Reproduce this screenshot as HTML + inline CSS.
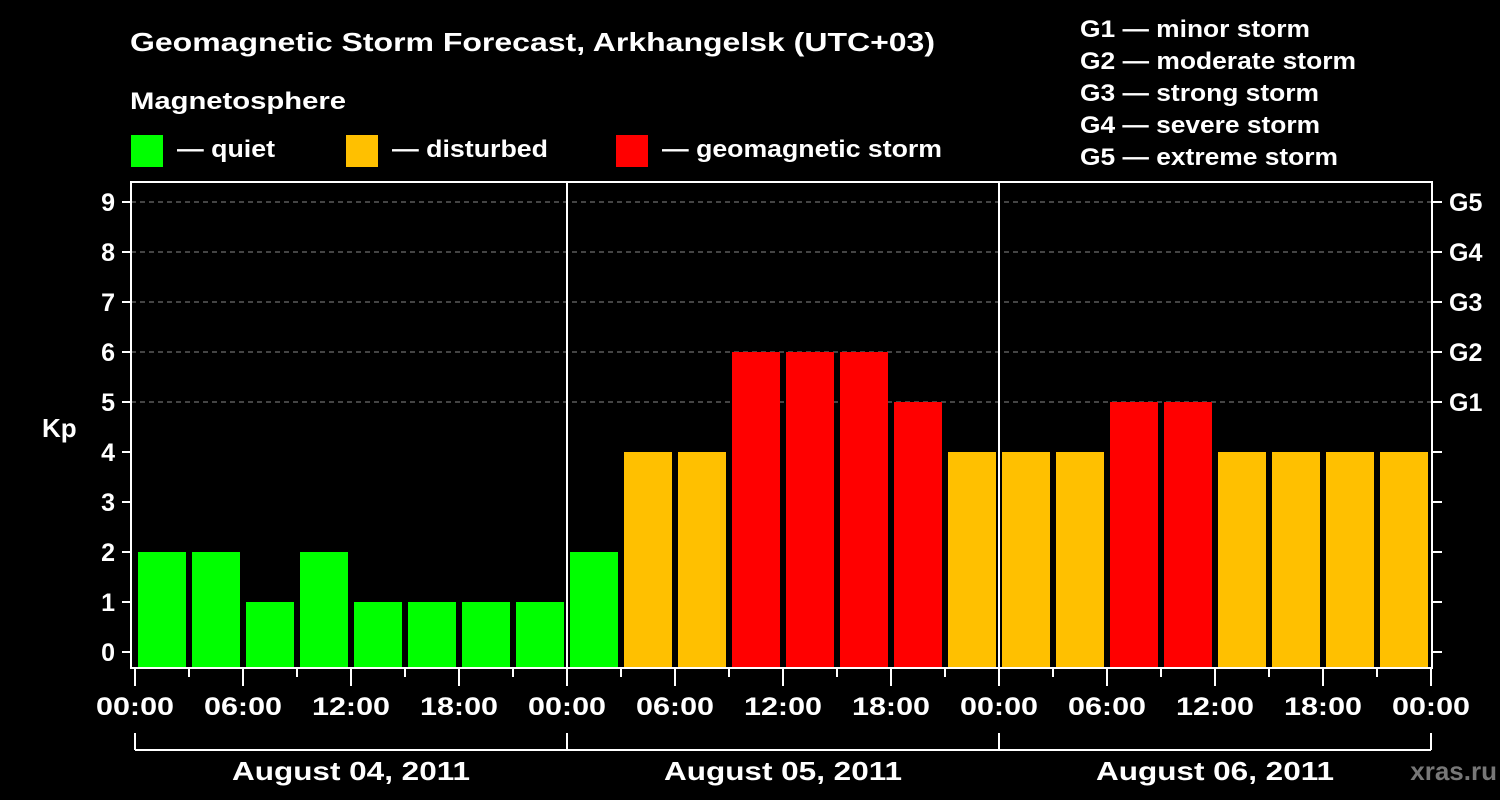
<!DOCTYPE html>
<html><head><meta charset="utf-8"><style>
html,body{margin:0;padding:0;background:#000;overflow:hidden;width:1500px;height:800px;}
svg{display:block;}
svg text{font-family:"Liberation Sans",sans-serif;font-weight:bold;fill:#fff;}
</style></head><body>
<svg id="c" width="1500" height="800" viewBox="0 0 1500 800">
<text x="130" y="51" font-size="26" textLength="805" lengthAdjust="spacingAndGlyphs">Geomagnetic Storm Forecast, Arkhangelsk (UTC+03)</text>
<text x="130" y="109" font-size="24" textLength="216" lengthAdjust="spacingAndGlyphs">Magnetosphere</text>
<rect x="131" y="135" width="32" height="32" fill="#00ff00"/>
<text x="177" y="157" font-size="24" textLength="98" lengthAdjust="spacingAndGlyphs">— quiet</text>
<rect x="346" y="135" width="32" height="32" fill="#ffc000"/>
<text x="392" y="157" font-size="24" textLength="156" lengthAdjust="spacingAndGlyphs">— disturbed</text>
<rect x="616" y="135" width="32" height="32" fill="#ff0000"/>
<text x="662" y="157" font-size="24" textLength="280" lengthAdjust="spacingAndGlyphs">— geomagnetic storm</text>
<g font-size="24">
<text x="1080" y="37" textLength="230" lengthAdjust="spacingAndGlyphs">G1 — minor storm</text>
<text x="1080" y="69" textLength="276" lengthAdjust="spacingAndGlyphs">G2 — moderate storm</text>
<text x="1080" y="101" textLength="239" lengthAdjust="spacingAndGlyphs">G3 — strong storm</text>
<text x="1080" y="133" textLength="240" lengthAdjust="spacingAndGlyphs">G4 — severe storm</text>
<text x="1080" y="165" textLength="258" lengthAdjust="spacingAndGlyphs">G5 — extreme storm</text>
</g>
<text x="42" y="437" font-size="26">Kp</text>
<text x="1497" y="780" font-size="26" text-anchor="end" style="fill:#777">xras.ru</text>
<g id="plot"></g>
</svg>
<script>
const kpValues=[2,2,1,2,1,1,1,1, 2,4,4,6,6,6,5,4, 4,4,5,5,4,4,4,4];
const dayLabels=["August 04, 2011","August 05, 2011","August 06, 2011"];
const timeLabels=["00:00","06:00","12:00","18:00"];
const yTicks=[0,1,2,3,4,5,6,7,8,9];
const gLabels=[[5,"G1"],[6,"G2"],[7,"G3"],[8,"G4"],[9,"G5"]];

const NS="http://www.w3.org/2000/svg";
const plotG=document.getElementById('plot');
const x0=135, slotW=54, y0=652, unit=50, plotTop=182, plotBottom=668, plotLeft=131, plotRight=1432;
const xs=i=>x0+i*slotW;
const ys=v=>y0-v*unit;
function mk(t,a){const e=document.createElementNS(NS,t);for(const k in a)e.setAttribute(k,a[k]);plotG.appendChild(e);return e;}
function color(v){return v>=5?"#ff0000":(v>=3?"#ffc000":"#00ff00");}

gLabels.forEach(([v,l])=>{
 const ln=mk('line',{x1:plotLeft,x2:plotRight,y1:ys(v),y2:ys(v),stroke:'#888','stroke-width':1,'stroke-dasharray':'5,4'});
 
 
 const t=mk('text',{x:1449,y:ys(v)+9,'font-size':25});t.textContent=l;
 
 
});
kpValues.forEach((v,i)=>{
 const r=mk('rect',{x:xs(i)+3,y:ys(v),width:48,height:(plotBottom-1)-ys(v),fill:color(v)});
 
 
});
const fr=mk('rect',{x:plotLeft,y:plotTop,width:plotRight-plotLeft,height:plotBottom-plotTop,fill:'none',stroke:'#fff','stroke-width':2});


yTicks.forEach(v=>{
 mk('line',{x1:122,x2:plotLeft,y1:ys(v),y2:ys(v),stroke:'#fff','stroke-width':2});
 mk('line',{x1:plotRight,x2:1442,y1:ys(v),y2:ys(v),stroke:'#fff','stroke-width':2});
 const t=mk('text',{x:115,y:ys(v)+9,'font-size':25,'text-anchor':'end'});t.textContent=v;
 
 
});
const nDays=dayLabels.length;
for(let i=0;i<=kpValues.length;i++){
 const major=i%2===0;
 mk('line',{x1:xs(i),x2:xs(i),y1:plotBottom,y2:major?686:677,stroke:'#fff','stroke-width':2});
 if(major){
  const t=mk('text',{x:xs(i),y:715,'font-size':25,'text-anchor':'middle',textLength:78,lengthAdjust:'spacingAndGlyphs'});
  t.textContent=timeLabels[(i/2)%4];
  
  
 }
}
for(let d=0;d<=nDays;d++){
 const x=xs(d*8);
 if(d>0&&d<nDays) mk('line',{x1:x,x2:x,y1:plotTop,y2:plotBottom,stroke:'#fff','stroke-width':2});
 mk('line',{x1:x,x2:x,y1:733,y2:750,stroke:'#fff','stroke-width':2});
}
mk('line',{x1:xs(0),x2:xs(kpValues.length),y1:750,y2:750,stroke:'#fff','stroke-width':2});
dayLabels.forEach((l,d)=>{
 const t=mk('text',{x:xs(d*8+4),y:780,'font-size':26,'text-anchor':'middle',textLength:238,lengthAdjust:'spacingAndGlyphs'});t.textContent=l;
 
 
});
</script>
</body></html>
